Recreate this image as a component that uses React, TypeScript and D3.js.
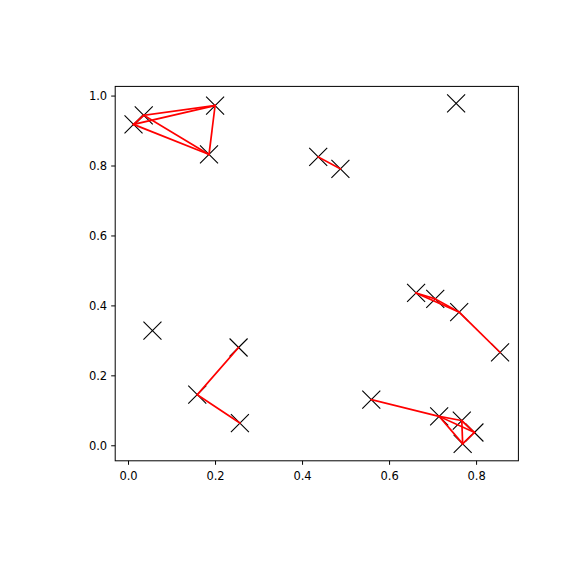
import React from "react";
import * as d3 from "d3";

const pointsX = [0.0115, 0.035, 0.199, 0.185, 0.436, 0.487, 0.661, 0.705, 0.760, 0.854, 0.253, 0.158, 0.256, 0.055, 0.753, 0.558, 0.714, 0.766, 0.795, 0.768];
const pointsY = [0.919, 0.945, 0.973, 0.833, 0.826, 0.792, 0.437, 0.420, 0.382, 0.267, 0.281, 0.146, 0.065, 0.329, 0.979, 0.132, 0.084, 0.072, 0.038, 0.0057];
const edgeFrom = [0, 0, 1, 0, 1, 2, 4, 6, 6, 7, 8, 10, 11, 15, 16, 16, 16, 17, 17, 18];
const edgeTo = [1, 2, 2, 3, 3, 3, 5, 7, 8, 8, 9, 11, 12, 16, 17, 18, 19, 18, 19, 19];
const xTicks = [0.0, 0.2, 0.4, 0.6, 0.8];
const yTicks = [0.0, 0.2, 0.4, 0.6, 0.8, 1.0];

const W = 576, H = 576;
const left = 115.2, right = 518.4, top = 86.4, bottom = 460.8;

function padded(vals: number[]): [number, number] {
  const [a, b] = d3.extent(vals) as [number, number];
  const p = (b - a) * 0.05;
  return [a - p, b + p];
}

export default function App() {
  const x = d3.scaleLinear().domain(padded(pointsX)).range([left, right]);
  const y = d3.scaleLinear().domain(padded(pointsY)).range([bottom, top]);
  const m = 9;
  const font = "'DejaVu Sans', sans-serif";
  const fs = 11.5;
  return (
    <svg width={W} height={H} style={{ position: "absolute", left: 0, top: 0, background: "#fff" }}>
      <rect x={0} y={0} width={W} height={H} fill="#fff" />
      <g clipPath="url(#clip)">
        {pointsX.map((px, i) => {
          const cx = x(px), cy = y(pointsY[i]);
          return (
            <path key={"m" + i} d={`M${cx - m},${cy - m}L${cx + m},${cy + m}M${cx - m},${cy + m}L${cx + m},${cy - m}`}
              stroke="#000" strokeWidth={1.1} fill="none" />
          );
        })}
        {edgeFrom.map((a, i) => {
          const b = edgeTo[i];
          return (
            <line key={"e" + i} x1={x(pointsX[a])} y1={y(pointsY[a])} x2={x(pointsX[b])} y2={y(pointsY[b])}
              stroke="#ff0000" strokeWidth={1.7} strokeLinecap="square" />
          );
        })}
      </g>
      <rect x={left} y={top} width={right - left} height={bottom - top} fill="none" stroke="#000" strokeWidth={1} />
      {xTicks.map((t) => (
        <g key={"xt" + t}>
          <line x1={x(t)} x2={x(t)} y1={bottom} y2={bottom + 4} stroke="#000" strokeWidth={1} />
          <text x={x(t)} y={bottom + 19} textAnchor="middle" fontFamily={font} fontSize={fs} fill="#000">{t.toFixed(1)}</text>
        </g>
      ))}
      {yTicks.map((t) => (
        <g key={"yt" + t}>
          <line x1={left - 4} x2={left} y1={y(t)} y2={y(t)} stroke="#000" strokeWidth={1} />
          <text x={left - 8} y={y(t)} dy="0.36em" textAnchor="end" fontFamily={font} fontSize={fs} fill="#000">{t.toFixed(1)}</text>
        </g>
      ))}
    </svg>
  );
}
